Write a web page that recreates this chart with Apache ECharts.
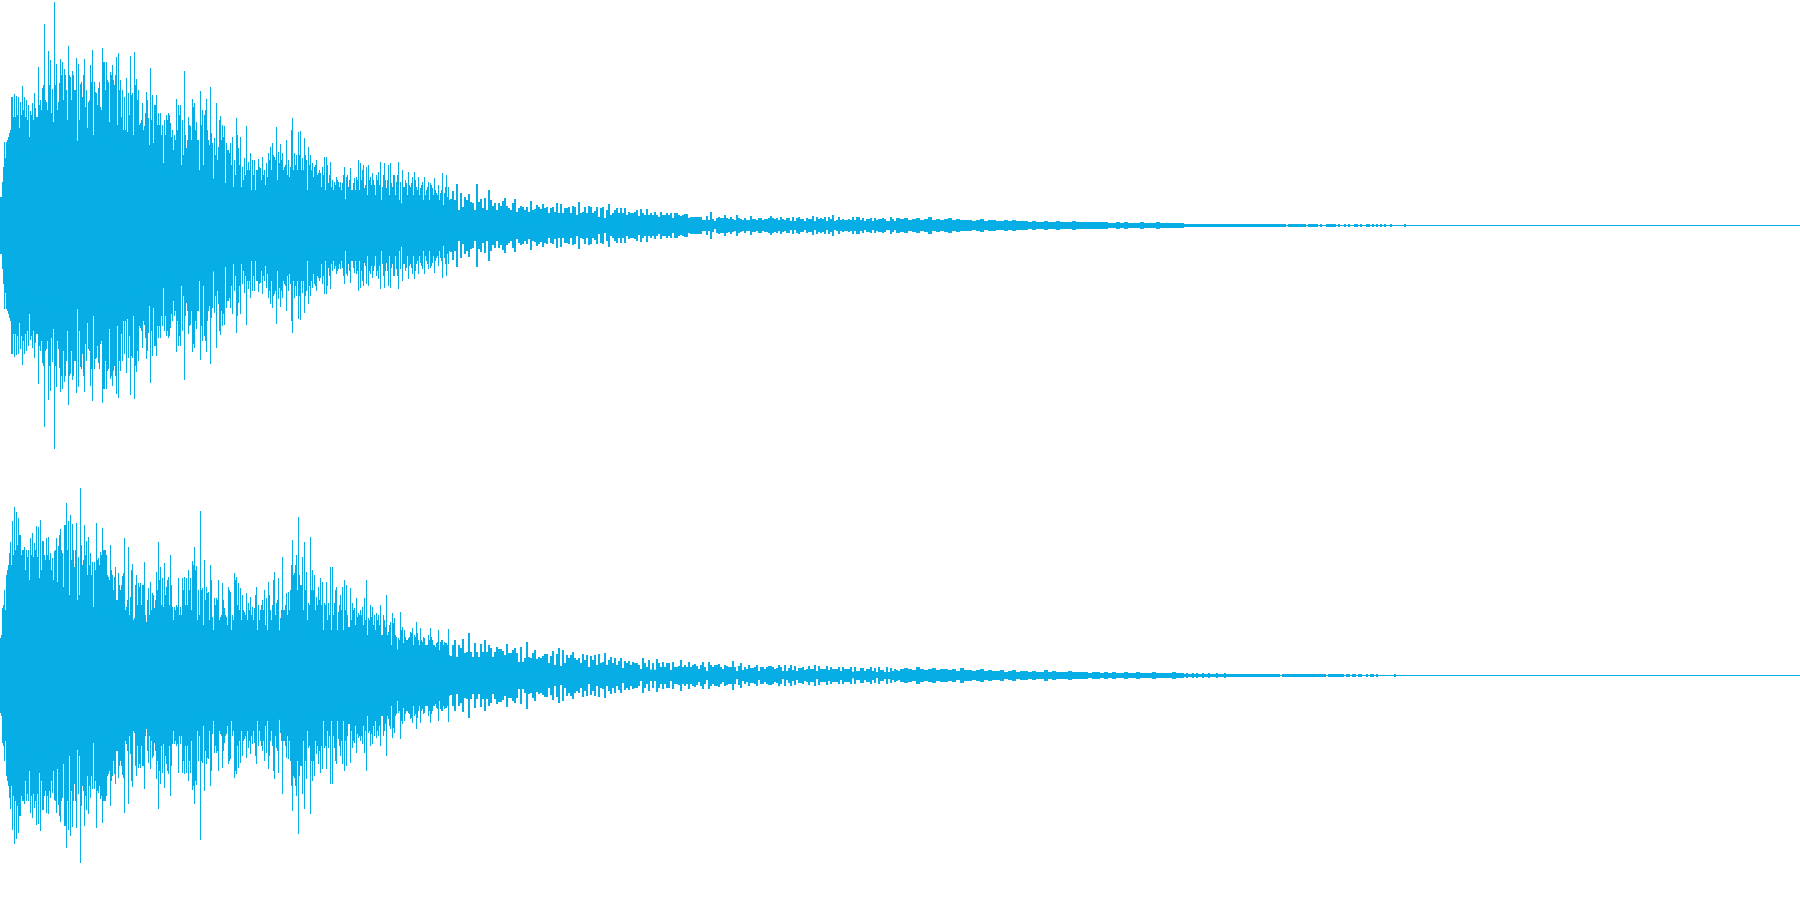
<!DOCTYPE html>
<html><head><meta charset="utf-8">
<style>html,body{margin:0;padding:0;background:#fff}#c{width:1800px;height:900px}</style>
<script src="https://cdn.jsdelivr.net/npm/echarts@6/dist/echarts.min.js"></script>
</head><body><div id="c"></div>
<script>
// Waveform amplitudes (full scale = 225), the two channels are mirrored around zero.
const leftPeaksA=[28,43,83,83,88,95,128,131,129,128,123,139,128,125,120,114,122,132,108,158,125,137,201,123,174,165,136,223,161,123,166,163,156,135,179,148,154,135,167,161,141,128,166,135,123,160,175,143,132,137,118,177,163,163,143,153,160,140,168,172,145,135,128,147,132,169,132,173,146,135,102,122,99,133,107,157,130,120,130,112,112,100,105,110,112,102,95,90,126,120,120,105,154,77,108,99,126,122,103,85,134,115,110,126,85,138,82,87,122,78,109,100,99,82,75,82,88,65,107,77,88,58,67,99,63,72,65,65,55,66,57,68,55,62,72,78,82,68,98,73,81,72,58,85,65,58,107,72,70,93,94,67,87,65,78,70,62,58,65,52,52,58,68,68,42,63,45,43,48,43,43,42,58,48,38,57,35,47,48,65,62,55,37,58,60,48,52,40,50,53,63,38,62,37,60,62,38,50,43,63,43,55,38,42,53,38,48,53,38,48,37,43,48,35,43,42,37,47,32,40,32,52,32,50,38];
const leftOddA=[28,58,67,85,92,128,108,108,110,97,110,115,108,105,88,110,105,117,108,120,115,140,125,115,140,112,103,140,115,142,150,125,150,105,150,125,150,135,77,105,143,150,118,97,125,143,90,133,120,143,115,163,135,145,103,150,145,150,100,135,108,95,95,93,110,130,90,140,125,100,105,95,112,125,80,105,82,120,100,100,90,62,90,105,110,88,75,85,95,110,60,70,90,85,100,85,118,95,85,55,100,60,115,95,80,92,40,70,65,105,85,88,38,75,72,60,38,50,90,60,38,45,50,55,55,35,50,35,55,58,45,50,40,48,65,55,70,65,45,62,65,55,60,50,48,95,55,60,55,70,55,55,70,35,60,55,48,60,50,55,38,50,35,60,50,38,35,40,45,38,35,50,25,50,45,35,42,35,45,35,45,60,40,30,45,40,45,30,45,40,25,50,45,45,30,42,50,30,50,25,20,38,45,30,40,42,30,45,35,30,40,25,30,38,25,40,30,35,30,25,35,20,38,28,25];
const leftPeaksB=[26,34,25,41,15,32,18,28,25,31,23,22,15,41,23,26,17,27,15,35,25,19,22,15,22,19,24,27,19,17,15,22,26,13,17,19,18,15,18,13,24,15,16,20,18,16,21,17,18,12,17,18,13,22,12,21,12,17,17,18,12,19,18,10,23,12,13,18,12,19,18,12,14,18,8,17,18,7,15,21,10,12,15,17,12,17,12,17,10,13,12,12,13,15,9,16,12,10,16,10,12,10,13,10,8,13,10,10,12,10,12,7,12,12,10,9,10,11,11,7,8,8,8,8,8,8,5,5,9,5,13,6,3,7,8,7,7,10,7,6,8,6,5,10,7,6,5,7,5,5,9,6,6,5,7,7,5,6,6,7,9,7,6,7,5,8,6,5,7,7,4,8,4,7,8,6,6,4,7,6,6,9,4,8,6,7,6,8,4,8,6,10,4,5,8,5,6,5,5,6,5,8,5,8,8,5,7,4,6,6,7,4,7,5,6,6,7,6,4,4,8,6,4,7,7];
const leftPeaksC=[6,7,5,6,7,5,6,8,5,6,5,6,7,5,6,5,5,5,4,5,6,4,5,5,4,4,5,4,5,4,4,4,3,4,3,3,4,3,3,4,3,3,3,4,3,3,3,3,3,3,3,3,2,2,3,2,3,2,2,2,3,2,2,2,3,2,2,2,2,2,2];
const leftPeaksD=[1,1,1,1,1,1,1,1,1,1,1,1,1,1,1,1,1,1,1,1,1,1,1,1,1,1,1,1,1,1,1,1,1,1,1,1,1,1,1,1,1,1,1,1,1,1,1,1,1,1,1,0,1,1,1,1,1,1,1,1,1,0,1,1,1,1,1,0,1,0,0,1,1,1,1,1,0,1,0,0,1,0,1,0,0,1,1,0,1,0,0,1,1,0,1,0,1,0,1,0,1,0,0,1,0,0,0,0,0,0,1];
const rightPeaksA=[37,67,85,100,110,133,154,168,163,157,140,125,128,125,125,137,142,132,149,148,155,134,120,137,138,122,117,124,137,129,146,122,150,172,154,160,151,108,152,118,187,110,150,134,138,122,113,113,152,117,123,147,125,120,98,130,100,98,75,102,85,99,137,68,128,78,111,57,100,92,92,90,113,53,87,93,82,67,103,133,108,97,112,88,98,120,68,68,70,97,68,97,98,97,105,97,114,128,109,85,164,87,115,88,83,110,58,77,77,95,58,92,67,58,88,83,60,102,98,92,87,80,63,82,72,78,68,67,88,70,65,75,85,77,93,65,70,103,72,97,57,118,65,82,83,85,135,102,120,158,90,118,133,103,72,138,105,100,78,88,97,93,72,93,72,108,108,72,88,63,80,88,95,90,48,87,72,67,77,62,65,68,77,95,57,70,68,60,62,60,70,40,55,80,43,53,62,57,38,37,63,48,45,35,37,43,47,40,53,35,47,33,37,30,40,47,35,30,32,45,33,35,33,32,46];
const rightOddA=[40,70,65,105,122,110,120,125,130,140,120,125,105,118,95,120,118,125,118,97,105,134,115,120,115,105,95,125,93,140,125,88,150,125,80,115,125,125,73,80,130,115,120,100,110,100,62,105,115,110,120,125,125,100,95,105,85,108,75,90,90,102,65,75,60,105,55,90,70,88,70,90,60,75,60,65,80,75,85,95,70,68,80,95,70,90,55,65,68,60,60,85,70,70,85,65,110,105,55,60,85,50,75,82,55,95,45,70,75,55,60,75,60,50,85,45,55,95,70,65,55,65,60,55,65,60,55,80,45,55,70,65,50,45,80,55,95,60,75,40,65,65,70,60,65,110,100,110,85,100,90,65,85,55,70,85,85,65,70,75,70,45,70,55,60,45,60,85,45,70,65,45,65,60,48,55,65,50,58,60,60,50,55,40,55,58,50,45,55,50,40,60,48,40,50,30,52,40,25,35,45,32,38,35,38,42,30,38,42,30,35,38,30,30,35,38,30,28,33,25,35,30,32,30,20];
const rightPeaksB=[19,30,35,18,30,27,36,22,23,42,23,18,32,23,18,31,23,35,23,30,27,18,23,28,26,26,24,20,31,22,22,25,27,22,13,28,13,17,33,18,17,22,25,16,18,17,19,21,21,12,19,24,10,21,27,9,25,12,20,17,20,23,17,15,17,12,21,15,20,8,19,15,20,10,21,12,13,22,10,15,18,12,17,10,14,17,7,14,12,14,10,13,12,12,10,5,17,12,8,15,5,12,5,16,12,8,13,8,12,12,5,13,8,8,9,15,8,10,8,13,8,10,11,9,6,10,13,8,4,13,10,8,10,10,11,8,6,10,9,8,8,14,8,3,9,12,5,8,6,10,7,7,8,10,4,8,8,6,8,9,9,8,6,7,10,8,3,10,4,7,10,5,9,4,7,7,8,5,6,9,6,6,10,2,9,6,6,6,9,5,8,6,6,6,8,4,8,6,6,6,8,2,8,4,4,7,7,4,6,6,8,4,7,2,8,5,5,3,8,3,7,4,6,5,4];
const rightPeaksC=[6,7,6,5,8,6,5,6,7,5,6,6,5,6,4,7,5,5,4,5,6,4,5,4,4,5,3,4,5,3,4,4,3,4,3,3,5,3,4,3,3,3,4,3,3,3,3,2,3,3,2,3,2,3,2,2,3,2,2,3,2,2,2,3,2,2,2,2,3,2,2];
const rightPeaksD=[1,2,1,1,2,1,2,1,1,2,1,1,2,1,1,1,2,1,1,1,2,1,1,1,1,1,1,1,1,1,1,1,1,1,1,1,1,1,1,1,1,1,1,1,1,1,1,1,0,1,1,1,1,1,1,1,1,1,1,1,1,1,1,1,1,1,1,1,1,1,1,0,1,1,1,1,1,1,1,1,0,1,1,0,1,1,0,1,1,0,0,1,0,1,1,0,1,0,0,0,0,0,0,0,0,1,0,0];
const leftBody=[20,70,75,80,85,85,80,65,60,50,50,45,35,32,35,35,28,25,28,25,22,20,18,12,11,10,9,8,8,7,7,6,6,5,5,4,4,4,4,4,4,4,4,3,3,3];
const rightBody=[25,75,80,75,75,65,60,50,45,50,45,42,42,40,45,45,42,38,35,30,25,22,18,12,11,10,9,8,8,7,7,6,6,5,5,4,4,4,4,4,4,4,4,3,3,3];

const COLOR='#06AEE5';
const FULL_SCALE=225, COLUMNS=1800;
const sections=(a,odd,b,c,d)=>[[a,0,2,1],[odd,1,2,1],[b,450,2,2],[c,900,4,4],[d,1184,2,2]]
  .flatMap(([vals,start,step,w])=>vals.map((v,i)=>[start+i*step,v,w]));
const bodyPoints=b=>b.map((v,i)=>[i*20,v]).concat([[(b.length)*20,0],[COLUMNS,0]]);

const spike=(params,api)=>{
  const x=api.value(0),v=api.value(1),w=api.value(2);
  if(!v) return null;
  const p0=api.coord([x,v]),p1=api.coord([x+w,-v]);
  return {type:'rect',shape:{x:p0[0],y:p0[1],width:p1[0]-p0[0],height:p1[1]-p0[1]+1},style:{fill:COLOR},silent:true};
};
const channel=(idx,peaks,body)=>[
  {type:'line',xAxisIndex:idx,yAxisIndex:idx,data:bodyPoints(body),showSymbol:false,lineStyle:{width:0},areaStyle:{color:COLOR,opacity:1},animation:false,silent:true},
  {type:'line',xAxisIndex:idx,yAxisIndex:idx,data:bodyPoints(body).map(p=>[p[0],-p[1]]),showSymbol:false,lineStyle:{width:0},areaStyle:{color:COLOR,opacity:1},animation:false,silent:true},
  {type:'custom',xAxisIndex:idx,yAxisIndex:idx,data:peaks,renderItem:spike,animation:false,silent:true,clip:false,encode:{x:0,y:1}}
];
const chart=echarts.init(document.getElementById('c'),null,{renderer:'canvas'});
const xAxis=i=>({gridIndex:i,type:'value',min:0,max:COLUMNS,axisLine:{show:true,onZero:true,lineStyle:{color:COLOR,width:1}},axisTick:{show:false},axisLabel:{show:false},splitLine:{show:false}});
const yAxis=i=>({gridIndex:i,type:'value',min:-FULL_SCALE,max:FULL_SCALE,show:false,splitLine:{show:false}});
chart.setOption({
  animation:false,backgroundColor:'#fff',
  grid:[{left:0,right:0,top:0,height:450,containLabel:false},{left:0,right:0,top:450,height:450,containLabel:false}],
  xAxis:[xAxis(0),xAxis(1)],yAxis:[yAxis(0),yAxis(1)],
  series:[...channel(0,sections(leftPeaksA,leftOddA,leftPeaksB,leftPeaksC,leftPeaksD),leftBody),
          ...channel(1,sections(rightPeaksA,rightOddA,rightPeaksB,rightPeaksC,rightPeaksD),rightBody)]
});
</script></body></html>
